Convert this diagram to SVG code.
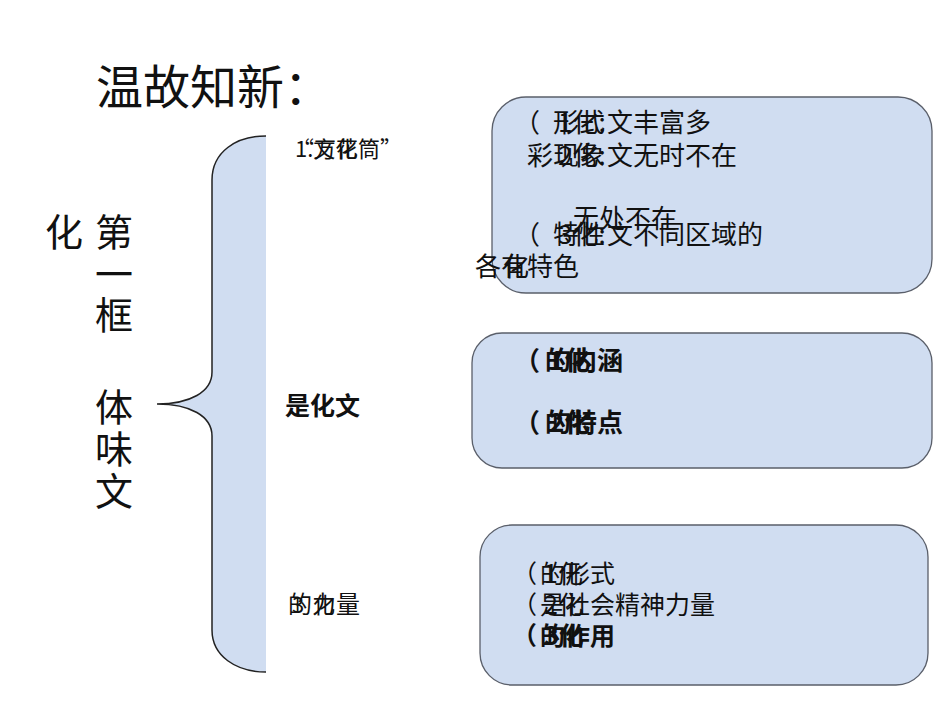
<svg xmlns="http://www.w3.org/2000/svg" width="950" height="713" viewBox="0 0 950 713">
<style>
.t{font-family:"Noto Sans CJK SC","Liberation Sans",sans-serif;fill:#111}
.box{fill:#d0ddf1;stroke:#5a5f6a;stroke-width:1.3}
.s26{font-size:26px}
.s25{font-size:25px}
.s22{font-size:22px}
.s24{font-size:24px}
.b{font-weight:bold}
.v{font-size:38px;font-family:"Noto Sans CJK SC","Liberation Serif",serif;fill:#111}
</style>
<rect width="950" height="713" fill="#fff"/>
<g id="title"><text class="t" x="96" y="104" font-size="47">温故知新：</text></g>
<g id="side">
<text class="v" x="45" y="246">化</text>
<text class="v" x="95" y="246">第</text>
<text class="v" x="95" y="288">一</text>
<text class="v" x="95" y="329">框</text>
<text class="v" x="95" y="421">体</text>
<text class="v" x="95" y="463">味</text>
<text class="v" x="95" y="505">文</text>
</g>
<g id="connectors">
<path d="M266,136 C236,136 212,152 212,180 L212,372 C212,392 190,404 157,404 C190,404 212,416 212,436 L212,630 C212,656 236,672 266,672 Z" fill="#d0ddf1" stroke="none"/>
<path d="M266,136 C236,136 212,152 212,180 L212,372 C212,392 190,404 157,404 C190,404 212,416 212,436 L212,630 C212,656 236,672 266,672" fill="none" stroke="#222" stroke-width="1.5"/>
</g>
<g id="label1">
<text class="t s22" x="295" y="157">1.文化</text>
<text class="t s22" x="292" y="157">“万花筒”</text>
</g>
<g id="label2">
<text class="t s25 b" x="285" y="415">是化文</text>
</g>
<g id="label3">
<text class="t s24" x="288" y="613">的力量</text>
<text class="t s22" x="292" y="613">3</text>
<text class="t s22" x="313" y="613">化</text>
</g>
<g id="box1">
<rect class="box" x="492" y="97" width="440" height="196" rx="34"/>
<text class="t s26" x="514" y="132">（</text>
<text class="t s26" x="553" y="132">形式</text>
<text class="t s26" x="558" y="132">1化:</text>
<text class="t s26" x="607" y="132">文丰富多</text>
<text class="t s26" x="527" y="165">彩</text>
<text class="t s26" x="553" y="165">现象</text>
<text class="t s26" x="558" y="165">2化:</text>
<text class="t s26" x="607" y="165">文无时不在</text>
<text class="t s26" x="573" y="228">无处不在</text>
<text class="t s26" x="514" y="244">（</text>
<text class="t s26" x="553" y="244">特性</text>
<text class="t s26" x="558" y="244">3化:</text>
<text class="t s26" x="607" y="244">文不同区域的</text>
<text class="t s26" x="475" y="276">各有特色</text>
<text class="t s26" x="503" y="276">化</text>
</g>
<g id="box2">
<rect class="box" x="472" y="333" width="460" height="135" rx="30"/>
<text class="t s26 b" x="514" y="370">（</text>
<text class="t s26 b" x="545" y="370">的内涵</text>
<text class="t s26 b" x="549" y="370">1化</text>
<text class="t s26 b" x="514" y="432">（</text>
<text class="t s26 b" x="545" y="432">的特点</text>
<text class="t s26 b" x="549" y="432">2化</text>
</g>
<g id="box3">
<rect class="box" x="480" y="525" width="448" height="160" rx="32"/>
<text class="t s25" x="512" y="583">（</text>
<text class="t s25" x="540" y="583">的形式</text>
<text class="t s25" x="544" y="583">1化</text>
<text class="t s25" x="512" y="614">（</text>
<text class="t s25" x="540" y="614">是社会精神力量</text>
<text class="t s25" x="544" y="614">2化</text>
<text class="t s25 b" x="512" y="645">（</text>
<text class="t s25 b" x="540" y="645">的作用</text>
<text class="t s25 b" x="544" y="645">3化</text>
</g>
</svg>
